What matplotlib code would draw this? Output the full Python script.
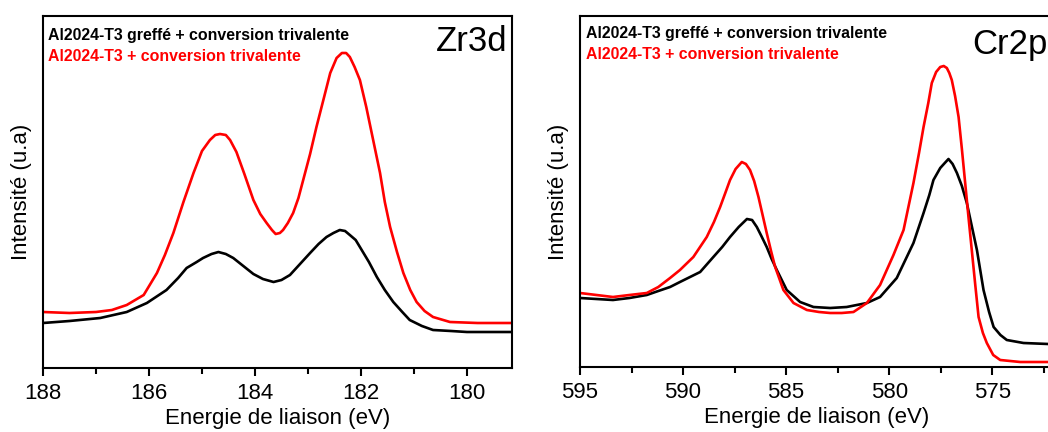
import matplotlib
matplotlib.use("Agg")
import matplotlib.pyplot as plt
from matplotlib.ticker import MultipleLocator, NullLocator

plt.rcParams['font.family'] = ['Liberation Sans', 'DejaVu Sans']

# ---------------- Zr3d data ----------------
zr_red_x = [188.0, 187.5, 187.0, 186.7, 186.42, 186.1, 185.85, 185.7, 185.54, 185.35,
            185.16, 185.0, 184.85, 184.75, 184.66, 184.55, 184.47, 184.35, 184.2, 184.03,
            183.9, 183.78, 183.68, 183.61, 183.53, 183.47, 183.38, 183.28, 183.18, 183.09,
            182.96, 182.84, 182.7, 182.58, 182.46, 182.36, 182.28, 182.21, 182.12, 182.02,
            181.9, 181.77, 181.64, 181.55, 181.45, 181.32, 181.2, 181.07, 180.95, 180.8,
            180.64, 180.32, 179.8, 179.15]
zr_red_y = [56, 55, 56, 58, 63, 73, 95, 113, 135, 166,
            195, 217, 228, 233, 234, 233, 228, 216, 194, 168,
            154, 145, 138, 134, 135, 138, 145, 155, 170, 188,
            214, 241, 270, 295, 310, 315, 315, 311, 301, 288,
            261, 228, 195, 166, 141, 116, 95, 78, 66, 57,
            51, 46, 45, 45]

zr_blk_x = [188.0, 187.5, 186.92, 186.42, 186.04, 185.67, 185.45, 185.29, 185.1, 184.98,
            184.82, 184.69, 184.55, 184.41, 184.22, 184.03, 183.85, 183.65, 183.5, 183.34,
            183.15, 182.96, 182.8, 182.65, 182.52, 182.4, 182.3, 182.21, 182.1, 182.02,
            181.85, 181.7, 181.55, 181.39, 181.22, 181.08, 180.85, 180.64, 180.3, 180.0,
            179.15]
zr_blk_y = [45, 47, 50, 56, 65, 78, 90, 100, 106, 110,
            114, 116, 114, 110, 102, 94, 89, 86, 88, 93,
            104, 115, 124, 131, 135, 138, 137, 133, 128, 121,
            106, 91, 78, 66, 56, 48, 42, 38, 37, 36,
            36]

# ---------------- Cr2p data ----------------
cr_red_x = [595.0, 594.2, 593.4, 592.6, 591.76, 591.2, 590.63, 590.15, 589.5, 588.85,
            588.5, 588.2, 587.95, 587.72, 587.45, 587.15, 586.95, 586.75, 586.55, 586.34,
            586.14, 585.94, 585.73, 585.53, 585.13, 584.64, 583.99, 583.4, 582.86, 582.3,
            581.73, 581.08, 580.44, 579.79, 579.3, 578.82, 578.55, 578.33, 578.1, 577.93,
            577.72, 577.52, 577.35, 577.2, 577.08, 576.96, 576.8, 576.63, 576.47, 576.31,
            576.15, 575.99, 575.82, 575.66, 575.45, 575.26, 574.95, 574.61, 573.64, 572.28]
cr_red_y = [74, 72, 70, 72, 74, 80, 89, 97, 110, 130,
            145, 160, 174, 187, 198, 205, 203, 197, 186, 170,
            152, 134, 116, 100, 77, 64, 57, 55, 54, 54,
            55, 64, 82, 112, 137, 184, 214, 240, 264, 284,
            295, 300, 301, 299, 294, 287, 271, 250, 218, 184,
            150, 117, 82, 50, 34, 24, 12, 7, 5, 5]

cr_blk_x = [595.0, 594.2, 593.4, 592.6, 591.76, 591.2, 590.63, 590.15, 589.17, 588.53,
            588.1, 587.72, 587.3, 586.9, 586.65, 586.42, 586.2, 585.94, 585.7, 585.45,
            584.97, 584.32, 583.67, 582.86, 582.06, 581.08, 580.44, 579.63, 578.82, 578.33,
            578.05, 577.85, 577.52, 577.3, 577.12, 576.92, 576.71, 576.47, 576.23, 575.98,
            575.74, 575.42, 575.15, 574.93, 574.6, 574.29, 573.48, 572.28]
cr_blk_y = [69, 68, 67, 69, 72, 76, 80, 85, 95, 110,
            120, 130, 140, 148, 147, 140, 131, 120, 108, 97,
            77, 65, 60, 59, 60, 64, 70, 89, 124, 154,
            172, 187, 199, 204, 208, 203, 194, 181, 164, 140,
            117, 77, 55, 40, 32, 27, 24, 23]

legend_labels = ["Al2024-T3 greffé + conversion trivalente", "Al2024-T3 + conversion trivalente"]
xlabel = "Energie de liaison (eV)"
ylabel = "Intensité (u.a)"

W, H = 1048, 432
fig = plt.figure(figsize=(W / 100, H / 100), dpi=100)

def px_axes(l, r, t, b):
    return [l / W, 1 - b / H, (r - l) / W, (b - t) / H]

ax1 = fig.add_axes(px_axes(43, 512, 16, 368))
ax2 = fig.add_axes(px_axes(580, 1054, 16, 367))

RED = '#ff0000'
LW = 1.9

def style(ax, xlim, major, minor, ylim):
    ax.set_xlim(*xlim)
    ax.set_ylim(*ylim)
    ax.xaxis.set_major_locator(MultipleLocator(major))
    ax.xaxis.set_minor_locator(MultipleLocator(minor))
    ax.yaxis.set_major_locator(NullLocator())
    ax.yaxis.set_minor_locator(NullLocator())
    ax.tick_params(axis='x', which='major', direction='out', length=6, width=1.5,
                   labelsize=16, pad=5)
    ax.tick_params(axis='x', which='minor', direction='out', length=4, width=1.5)
    for s in ax.spines.values():
        s.set_linewidth(1.5)
    ax.set_xlabel(xlabel, fontsize=16, labelpad=3)
    ax.set_ylabel(ylabel, fontsize=16, labelpad=8)

ax1.plot(zr_blk_x, zr_blk_y, color='black', lw=LW)
ax1.plot(zr_red_x, zr_red_y, color=RED, lw=LW)
style(ax1, (188, 179.15), 2, 1, (0, 352))
ax1.text(0.01, 0.967, legend_labels[0], transform=ax1.transAxes, fontsize=11.4,
         fontweight='bold', color='black', va='top', ha='left')
ax1.text(0.01, 0.907, legend_labels[1], transform=ax1.transAxes, fontsize=11.4,
         fontweight='bold', color=RED, va='top', ha='left')
ax1.text(0.99, 0.975, "Zr3d", transform=ax1.transAxes, fontsize=25,
         color='black', va='top', ha='right')

ax2.plot(cr_blk_x, cr_blk_y, color='black', lw=LW)
ax2.plot(cr_red_x, cr_red_y, color=RED, lw=LW)
style(ax2, (595, 572), 5, 2.5, (0, 351))
ax2.text(0.013, 0.972, legend_labels[0], transform=ax2.transAxes, fontsize=11.4,
         fontweight='bold', color='black', va='top', ha='left')
ax2.text(0.013, 0.912, legend_labels[1], transform=ax2.transAxes, fontsize=11.4,
         fontweight='bold', color=RED, va='top', ha='left')
ax2.text(0.827, 0.965, "Cr2p", transform=ax2.transAxes, fontsize=25,
         color='black', va='top', ha='left')

fig.savefig("out.png", dpi=100)
